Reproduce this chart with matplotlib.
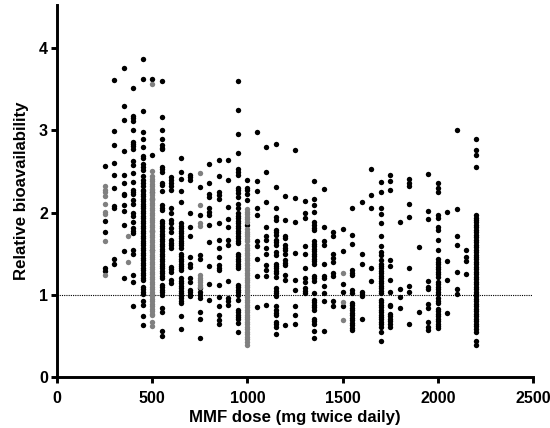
import matplotlib
matplotlib.use("Agg")
import matplotlib.pyplot as plt

plt.rcParams['font.family'] = ['Liberation Sans', 'DejaVu Sans']

# black points, one list per dose (mg)
black_250 = [2.57, 1.90, 1.76, 1.32, 1.29]
black_300 = [3.61, 2.99, 2.82, 2.60, 2.46, 2.30, 2.08, 2.05, 1.44, 1.38]
black_350 = [3.76, 3.30, 3.13, 2.75, 2.46, 2.36, 2.23, 2.21, 2.09, 2.02, 1.85, 1.53, 1.20]
black_400 = [3.51, 3.17, 3.15, 3.12, 3.00, 2.86, 2.83, 2.81, 2.77, 2.63, 2.58, 2.48, 2.37, 2.27, 2.25, 2.23,
             2.15, 2.11, 1.99, 1.96, 1.89, 1.81, 1.78, 1.75, 1.55, 1.50, 1.24, 1.16, 0.86]
black_450 = [3.87, 3.63, 3.23, 2.98, 2.90, 2.80, 2.69, 2.66, 2.59, 2.56, 2.52, 2.44, 2.40, 2.36, 2.32, 2.28,
             2.26, 2.23, 2.20, 2.17, 2.14, 2.11, 2.08, 2.05, 2.02, 1.99, 1.96, 1.93, 1.90, 1.87, 1.84, 1.81,
             1.78, 1.75, 1.72, 1.69, 1.66, 1.63, 1.60, 1.57, 1.54, 1.51, 1.48, 1.45, 1.42, 1.39, 1.36, 1.33,
             1.30, 1.27, 1.24, 1.21, 1.18, 1.10, 1.07, 1.04, 1.01, 0.92, 0.88, 0.74, 0.63]
black_500 = [3.62, 2.70, 2.25, 2.16, 1.78, 1.55]
black_550 = [3.60, 3.16, 3.00, 2.89, 2.82, 2.79, 2.77, 2.56, 2.53, 2.50, 2.36, 2.34, 2.26, 2.09, 2.06, 2.03,
             1.90, 1.87, 1.84, 1.81, 1.78, 1.74, 1.71, 1.68, 1.65, 1.62, 1.59, 1.56, 1.53, 1.50, 1.47, 1.44,
             1.41, 1.38, 1.35, 1.32, 1.29, 1.26, 1.23, 1.20, 1.12, 1.09, 1.06, 1.03, 1.00, 0.84, 0.79, 0.56, 0.50]
black_600 = [2.43, 2.40, 2.36, 2.32, 2.27, 2.06, 2.00, 1.91, 1.87, 1.81, 1.77, 1.67, 1.63, 1.60, 1.57, 1.34,
             1.31, 1.28, 1.18, 1.14]
black_650 = [2.67, 2.49, 2.41, 2.26, 2.13, 1.87, 1.84, 1.81, 1.78, 1.75, 1.72, 1.69, 1.66, 1.63, 1.60, 1.57,
             1.50, 1.47, 1.44, 1.41, 1.38, 1.35, 1.32, 1.30, 1.20, 1.17, 1.14, 1.11, 1.08, 1.05, 1.02, 0.99,
             0.96, 0.93, 0.90, 0.74, 0.58]
black_700 = [2.46, 2.43, 2.40, 2.00, 1.83, 1.71, 1.46, 1.37, 1.34, 1.20, 1.16, 1.06, 1.03, 1.00, 0.98]
black_750 = [2.31, 1.97, 1.49, 1.44, 1.08, 1.04, 1.00, 0.96, 0.79, 0.71, 0.47]
black_800 = [2.59, 2.36, 2.23, 2.19, 2.05, 2.01, 1.97, 1.85, 1.64, 1.35, 1.13, 0.94]
black_850 = [2.64, 2.44, 2.25, 2.21, 2.17, 1.87, 1.67, 1.57, 1.46, 1.36, 1.33, 1.30, 1.12, 0.97, 0.86, 0.75,
             0.69, 0.65]
black_900 = [2.64, 2.40, 2.07, 1.92, 1.83, 1.67, 1.61, 1.17, 0.96, 0.92, 0.88]
black_950 = [3.60, 3.25, 2.96, 2.72, 2.53, 2.49, 2.46, 2.30, 2.27, 2.24, 2.19, 2.11, 2.05, 1.99, 1.96, 1.93,
             1.90, 1.87, 1.84, 1.81, 1.78, 1.75, 1.72, 1.69, 1.66, 1.63, 1.50, 1.47, 1.44, 1.41, 1.38, 1.35,
             1.32, 1.12, 1.09, 1.06, 1.03, 1.00, 0.94, 0.82, 0.79, 0.76, 0.73, 0.70, 0.66, 0.55]
black_1000 = [2.40, 2.30, 2.27, 2.23, 2.15, 1.85]
black_1050 = [2.98, 2.38, 2.26, 2.06, 1.97, 1.65, 1.59, 1.43, 1.23, 0.85]
black_1100 = [2.80, 2.50, 2.13, 1.82, 1.72, 1.67, 1.57, 1.50, 1.36, 1.30, 1.23, 0.88]
black_1150 = [2.84, 2.31, 2.06, 1.95, 1.91, 1.79, 1.76, 1.73, 1.67, 1.64, 1.61, 1.52, 1.48, 1.38, 1.35, 1.32,
              1.29, 1.26, 1.22, 1.08, 1.05, 1.02, 0.98, 0.86, 0.82, 0.78, 0.75, 0.67, 0.64, 0.61, 0.52]
black_1200 = [2.20, 1.91, 1.72, 1.69, 1.61, 1.57, 1.54, 1.50, 1.42, 1.39, 1.36, 1.24, 1.18, 0.63]
black_1250 = [2.76, 2.18, 1.89, 1.51, 1.18, 1.06, 0.86, 0.75, 0.65]
black_1300 = [2.14, 1.99, 1.93, 1.59, 1.50, 1.32, 1.21, 1.15, 1.08, 1.05, 1.02]
black_1350 = [2.38, 2.16, 2.09, 2.01, 1.89, 1.85, 1.81, 1.79, 1.65, 1.62, 1.59, 1.56, 1.53, 1.50, 1.47, 1.44,
              1.41, 1.38, 1.23, 1.20, 1.17, 1.02, 0.94, 0.91, 0.88, 0.85, 0.82, 0.71, 0.68, 0.65, 0.56, 0.47]
black_1400 = [2.29, 1.83, 1.65, 1.61, 1.38, 1.23, 1.20, 1.11, 1.02, 0.92, 0.56]
black_1450 = [1.77, 1.71, 1.50, 1.45, 1.40, 1.27, 1.23, 0.93, 0.86]
black_1500 = [1.80, 1.53, 1.13, 1.03, 0.86]
black_1550 = [2.06, 1.73, 1.62, 1.30, 1.27, 1.24, 1.06, 1.02, 0.90, 0.87, 0.84, 0.81, 0.78, 0.75, 0.72, 0.69,
              0.66, 0.63, 0.60, 0.57]
black_1600 = [2.13, 1.50, 1.38, 1.04, 1.01, 0.99, 0.71]
black_1650 = [2.53, 2.21, 2.05, 1.33, 1.17]
black_1700 = [2.37, 2.25, 2.06, 1.98, 1.87, 1.71, 1.59, 1.52, 1.48, 1.42, 1.38, 1.35, 1.32, 1.29, 1.26, 1.23,
              1.20, 1.17, 1.14, 1.11, 1.08, 1.05, 1.02, 0.94, 0.91, 0.88, 0.85, 0.82, 0.79, 0.76, 0.73, 0.70,
              0.67, 0.64, 0.61, 0.55, 0.44]
black_1750 = [2.46, 2.38, 2.27, 1.42, 1.35, 1.18, 1.03, 0.88, 0.86, 0.77, 0.74, 0.71, 0.68, 0.65, 0.61]
black_1800 = [1.89, 1.07, 0.97, 0.84]
black_1850 = [2.41, 2.36, 2.32, 2.11, 1.95, 1.33, 1.11, 1.03, 0.64]
black_1900 = [1.58, 0.79]
black_1950 = [2.47, 2.02, 1.92, 1.17, 1.10, 1.07, 0.89, 0.84, 0.67, 0.61, 0.57]
black_2000 = [2.36, 2.30, 2.25, 1.97, 1.93, 1.83, 1.79, 1.67, 1.55, 1.43, 1.40, 1.37, 1.34, 1.31, 1.28, 1.25,
              1.22, 1.16, 1.13, 1.10, 1.07, 1.04, 1.01, 0.96, 0.93, 0.90, 0.83, 0.80, 0.77, 0.74, 0.71, 0.68,
              0.65, 0.62, 0.60]
black_2050 = [2.01, 1.41, 1.18, 0.78]
black_2100 = [3.00, 2.04, 1.72, 1.60, 1.28, 1.07, 1.01]
black_2150 = [1.54, 1.46, 1.41, 1.25]
black_2200 = [2.90, 2.76, 2.70, 2.56, 1.97, 1.94, 1.91, 1.88, 1.85, 1.82, 1.79, 1.76, 1.73, 1.70, 1.67, 1.64,
              1.61, 1.58, 1.55, 1.52, 1.49, 1.46, 1.43, 1.40, 1.37, 1.34, 1.31, 1.28, 1.25, 1.22, 1.19, 1.16,
              1.13, 1.10, 1.07, 1.04, 1.01, 0.98, 0.95, 0.92, 0.89, 0.86, 0.83, 0.80, 0.77, 0.74, 0.71, 0.68,
              0.65, 0.62, 0.59, 0.55, 0.44, 0.39]

black_doses = [250, 300, 350, 400, 450, 500, 550, 600, 650, 700, 750, 800, 850, 900, 950, 1000, 1050, 1100,
               1150, 1200, 1250, 1300, 1350, 1400, 1450, 1500, 1550, 1600, 1650, 1700, 1750, 1800, 1850, 1900,
               1950, 2000, 2050, 2100, 2150, 2200]
black_values = [black_250, black_300, black_350, black_400, black_450, black_500, black_550, black_600, black_650,
                black_700, black_750, black_800, black_850, black_900, black_950, black_1000, black_1050,
                black_1100, black_1150, black_1200, black_1250, black_1300, black_1350, black_1400, black_1450,
                black_1500, black_1550, black_1600, black_1650, black_1700, black_1750, black_1800, black_1850,
                black_1900, black_1950, black_2000, black_2050, black_2100, black_2150, black_2200]

# grey points
gray_250 = [2.32, 2.28, 2.25, 2.20, 2.11, 2.01, 1.98, 1.65, 1.24]
gray_375 = [1.72, 1.40]
gray_500 = [3.56, 2.51, 2.44, 2.41, 2.38, 2.35, 2.32, 2.29, 2.27, 2.24, 2.21, 2.18, 2.15, 2.12, 2.09, 2.06,
            2.03, 2.00, 1.97, 1.94, 1.91, 1.88, 1.85, 1.82, 1.79, 1.76, 1.73, 1.70, 1.67, 1.64, 1.61, 1.58,
            1.55, 1.52, 1.49, 1.46, 1.43, 1.40, 1.37, 1.34, 1.31, 1.28, 1.25, 1.22, 1.19, 1.16, 1.13, 1.10,
            1.07, 1.04, 1.01, 0.98, 0.95, 0.92, 0.89, 0.86, 0.83, 0.80, 0.77, 0.75, 0.67, 0.62]
gray_750 = [2.48, 2.09, 1.87, 1.84, 1.24, 1.21, 1.18, 1.15, 1.12, 1.10]
gray_1000 = [2.04, 2.01, 1.98, 1.95, 1.92, 1.89, 1.80, 1.77, 1.74, 1.71, 1.68, 1.65, 1.60, 1.57, 1.54, 1.51,
             1.48, 1.45, 1.42, 1.39, 1.36, 1.33, 1.30, 1.27, 1.24, 1.21, 1.18, 1.15, 1.12, 1.09, 1.06, 1.03,
             1.00, 0.97, 0.94, 0.91, 0.88, 0.85, 0.82, 0.79, 0.76, 0.73, 0.70, 0.67, 0.64, 0.61, 0.58, 0.55,
             0.52, 0.49, 0.46, 0.43, 0.39]
gray_1500 = [1.27, 0.91, 0.69]

gray_doses = [250, 375, 500, 750, 1000, 1500]
gray_values = [gray_250, gray_375, gray_500, gray_750, gray_1000, gray_1500]

x_ticks = [0, 500, 1000, 1500, 2000, 2500]
y_ticks = [0, 1, 2, 3, 4]

fig = plt.figure(figsize=(5.5, 4.28), dpi=100)
ax = fig.add_axes([57 / 550, 51 / 428, 476 / 550, 372 / 428])

ax.axhline(1, color='black', lw=0.8, ls=(0, (1, 1)), zorder=1)

for dose, vals in zip(black_doses, black_values):
    ax.scatter([dose] * len(vals), vals, s=15, color='black', linewidths=0, zorder=2, clip_on=False)
for dose, vals in zip(gray_doses, gray_values):
    ax.scatter([dose] * len(vals), vals, s=15, color='#808080', linewidths=0, zorder=3, clip_on=False)

ax.set_xlim(0, 2500)
ax.set_ylim(0, 372 / 82.2)
ax.set_xticks(x_ticks)
ax.set_yticks(y_ticks)

ax.spines['top'].set_visible(False)
ax.spines['right'].set_visible(False)
ax.spines['left'].set_linewidth(2.1)
ax.spines['bottom'].set_linewidth(2.1)
ax.tick_params(width=2.1, length=4.5, labelsize=11.5)
ax.tick_params(axis='x', pad=5.5)
ax.tick_params(axis='y', pad=2)
for lab in ax.get_xticklabels() + ax.get_yticklabels():
    lab.set_fontweight('bold')

ax.set_xlabel('MMF dose (mg twice daily)', fontsize=12.1, fontweight='bold', labelpad=3)
ax.set_ylabel('Relative bioavailability', fontsize=12.1, fontweight='bold', labelpad=7.5)

fig.savefig('out.png', dpi=100)
